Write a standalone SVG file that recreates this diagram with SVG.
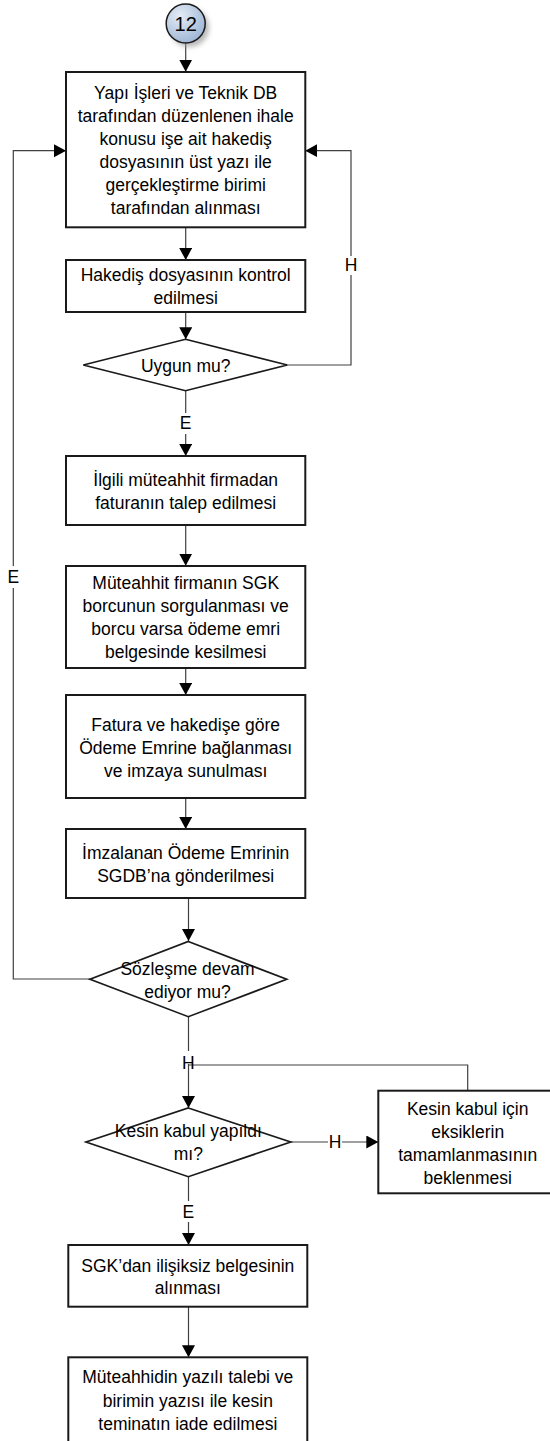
<svg xmlns="http://www.w3.org/2000/svg" width="550" height="1441" viewBox="0 0 550 1441">
  <defs>
    <marker id="arr" markerUnits="userSpaceOnUse" markerWidth="14" markerHeight="14" refX="12" refY="6.5" orient="auto">
      <path d="M0,0 L12,6.5 L0,13 z" fill="#000"/>
    </marker>
    <radialGradient id="cg" cx="0.35" cy="0.3" r="0.8">
      <stop offset="0" stop-color="#e4ecf6"/>
      <stop offset="1" stop-color="#98b1d2"/>
    </radialGradient>
    <filter id="blur" x="-50%" y="-50%" width="200%" height="200%">
      <feGaussianBlur stdDeviation="2.5"/>
    </filter>
    <style>
      .box { fill: #fff; stroke: #1a1a1a; stroke-width: 2; }
      .dia { fill: #fff; stroke: #1a1a1a; stroke-width: 1.7; }
      .t { font-family: "Liberation Sans", Arial, sans-serif; font-size: 17.5px; fill: #000; text-anchor: middle; }
      .c { fill: none; stroke: #404040; stroke-width: 1.2; }
      .lb { fill: #fff; stroke: none; }
    </style>
  </defs>

  <g id="connectors">
    <line class="c" x1="185.7" y1="43.5" x2="185.7" y2="71.7" marker-end="url(#arr)"/>
    <line class="c" x1="185.7" y1="227.3" x2="185.7" y2="260" marker-end="url(#arr)"/>
    <line class="c" x1="185.7" y1="312" x2="185.7" y2="339.3" marker-end="url(#arr)"/>
    <polyline class="c" points="287.3,365 351,365 351,150.7 305.3,150.7" marker-end="url(#arr)"/>
    <line class="c" x1="185.7" y1="391" x2="185.7" y2="456" marker-end="url(#arr)"/>
    <line class="c" x1="185.7" y1="525" x2="185.7" y2="565.7" marker-end="url(#arr)"/>
    <line class="c" x1="185.7" y1="668" x2="185.7" y2="695" marker-end="url(#arr)"/>
    <line class="c" x1="185.7" y1="798" x2="185.7" y2="829" marker-end="url(#arr)"/>
    <line class="c" x1="188.5" y1="898" x2="188.5" y2="941" marker-end="url(#arr)"/>
    <polyline class="c" points="90,979 13.3,979 13.3,150.7 66,150.7" marker-end="url(#arr)"/>
    <line class="c" x1="188.5" y1="1017" x2="188.5" y2="1108" marker-end="url(#arr)"/>
    <polyline class="c" points="467.7,1090.7 467.7,1065 188.5,1065"/>
    <line class="c" x1="290.7" y1="1142" x2="378.3" y2="1142" marker-end="url(#arr)"/>
    <line class="c" x1="188.5" y1="1177" x2="188.5" y2="1245" marker-end="url(#arr)"/>
    <line class="c" x1="188.5" y1="1307" x2="188.5" y2="1357.3" marker-end="url(#arr)"/>

    <rect class="lb" x="344" y="256" width="14" height="19"/>
    <text class="t" x="351" y="271">H</text>
    <rect class="lb" x="179" y="413" width="14" height="21"/>
    <text class="t" x="185.7" y="429">E</text>
    <rect class="lb" x="7" y="566" width="13" height="22"/>
    <text class="t" x="13.3" y="583">E</text>
    <rect class="lb" x="182" y="1051" width="12" height="13"/>
    <text class="t" x="188.3" y="1069">H</text>
    <rect class="lb" x="328" y="1134" width="14" height="16"/>
    <text class="t" x="335" y="1148">H</text>
    <rect class="lb" x="182" y="1201" width="13" height="21"/>
    <text class="t" x="188.3" y="1218">E</text>
  </g>

  <g id="start">
    <circle cx="189.5" cy="27.5" r="19.5" fill="#9a9a9a" opacity="0.7" filter="url(#blur)"/>
    <circle cx="185.7" cy="23.5" r="19.5" fill="url(#cg)" stroke="#1a1a1a" stroke-width="1.5"/>
    <text class="t" x="185.7" y="30.5" style="font-size:20px">12</text>
  </g>

  <g id="n1">
    <rect class="box" x="66" y="72" width="239.3" height="155.3"/>
    <text class="t" x="185.7" y="99">Yapı İşleri ve Teknik DB</text>
    <text class="t" x="185.7" y="122">tarafından düzenlenen ihale</text>
    <text class="t" x="185.7" y="145">konusu işe ait hakediş</text>
    <text class="t" x="185.7" y="168">dosyasının üst yazı ile</text>
    <text class="t" x="185.7" y="191">gerçekleştirme birimi</text>
    <text class="t" x="185.7" y="214">tarafından alınması</text>
  </g>

  <g id="n2">
    <rect class="box" x="66" y="260" width="239.3" height="52"/>
    <text class="t" x="185.7" y="281">Hakediş dosyasının kontrol</text>
    <text class="t" x="185.7" y="304">edilmesi</text>
  </g>

  <g id="d1">
    <polygon class="dia" points="185.5,339.3 287.3,365 185.5,390.7 83.3,365"/>
    <text class="t" x="185.7" y="371.5">Uygun mu?</text>
  </g>

  <g id="n3">
    <rect class="box" x="66" y="456" width="239.3" height="69"/>
    <text class="t" x="185.7" y="486">İlgili müteahhit firmadan</text>
    <text class="t" x="185.7" y="509">faturanın talep edilmesi</text>
  </g>

  <g id="n4">
    <rect class="box" x="66" y="566" width="239.3" height="102"/>
    <text class="t" x="185.7" y="589">Müteahhit firmanın SGK</text>
    <text class="t" x="185.7" y="612">borcunun sorgulanması ve</text>
    <text class="t" x="185.7" y="635">borcu varsa ödeme emri</text>
    <text class="t" x="185.7" y="658">belgesinde kesilmesi</text>
  </g>

  <g id="n5">
    <rect class="box" x="66" y="695" width="239.3" height="103"/>
    <text class="t" x="185.7" y="731">Fatura ve hakedişe göre</text>
    <text class="t" x="185.7" y="754">Ödeme Emrine bağlanması</text>
    <text class="t" x="185.7" y="777">ve imzaya sunulması</text>
  </g>

  <g id="n6">
    <rect class="box" x="66" y="829" width="239.3" height="69"/>
    <text class="t" x="185.7" y="859">İmzalanan Ödeme Emrinin</text>
    <text class="t" x="185.7" y="882">SGDB’na gönderilmesi</text>
  </g>

  <g id="d2">
    <polygon class="dia" points="188.3,941.5 286.7,979.3 188.3,1016.7 90,979.3"/>
    <text class="t" x="187.5" y="974.5">Sözleşme devam</text>
    <text class="t" x="187.5" y="998">ediyor mu?</text>
  </g>

  <g id="d3">
    <polygon class="dia" points="188.3,1108 290.7,1142 188.3,1176.7 86,1142"/>
    <text class="t" x="188.3" y="1136.5">Kesin kabul yapıldı</text>
    <text class="t" x="188.3" y="1159.5">mı?</text>
  </g>

  <g id="n9">
    <rect class="box" x="378.3" y="1090.7" width="178.8" height="102.6"/>
    <text class="t" x="467.7" y="1114.5">Kesin kabul için</text>
    <text class="t" x="467.7" y="1137.5">eksiklerin</text>
    <text class="t" x="467.7" y="1160.5">tamamlanmasının</text>
    <text class="t" x="467.7" y="1183.5">beklenmesi</text>
  </g>

  <g id="n7">
    <rect class="box" x="68.3" y="1245" width="239" height="61.7"/>
    <text class="t" x="187.8" y="1271.5">SGK’dan ilişiksiz belgesinin</text>
    <text class="t" x="187.8" y="1294">alınması</text>
  </g>

  <g id="n8">
    <rect class="box" x="68.3" y="1357.3" width="239" height="86"/>
    <text class="t" x="187.8" y="1383">Müteahhidin yazılı talebi ve</text>
    <text class="t" x="187.8" y="1406.5">birimin yazısı ile kesin</text>
    <text class="t" x="187.8" y="1430">teminatın iade edilmesi</text>
  </g>
</svg>
